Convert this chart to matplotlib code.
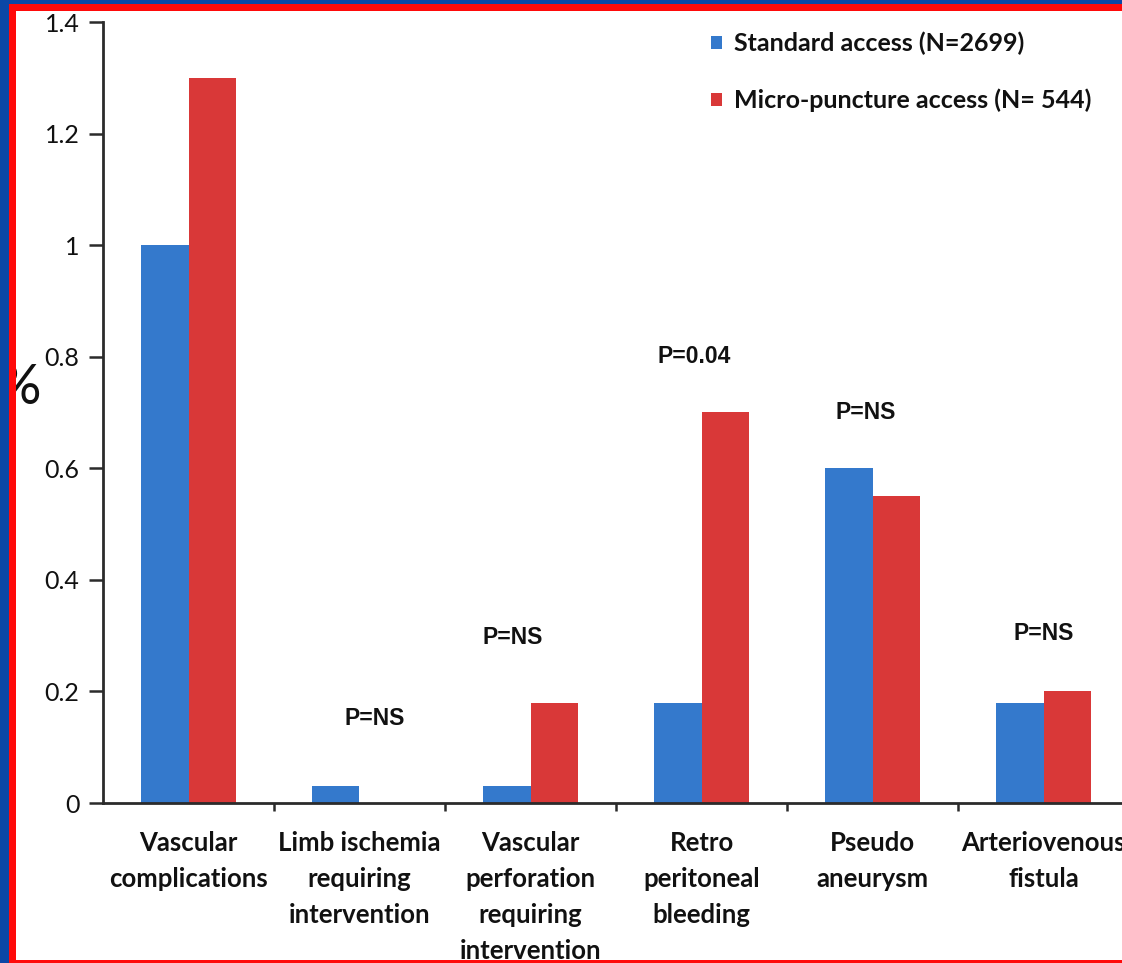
import matplotlib
matplotlib.use("Agg")
import matplotlib.pyplot as plt
from matplotlib.patches import Patch, Rectangle

# Complication rates (%) by access type
categories = [
    "Vascular\ncomplications",
    "Limb ischemia\nrequiring\nintervention",
    "Vascular\nperforation\nrequiring\nintervention",
    "Retro\nperitoneal\nbleeding",
    "Pseudo\naneurysm",
    "Arteriovenous\nfistula",
]
standard = [1.0, 0.03, 0.03, 0.18, 0.60, 0.18]
micro = [1.30, 0.0, 0.18, 0.70, 0.55, 0.20]
series_labels = ["Standard access (N=2699)", "Micro-puncture access (N= 544)"]

# p-value annotations: (category index, x offset, y position, text)
p_notes = [
    (1, 0.09, 0.152, "P=NS"),
    (2, -0.105, 0.297, "P=NS"),
    (3, -0.04, 0.80, "P=0.04"),
    (4, -0.04, 0.70, "P=NS"),
    (5, 0.0, 0.303, "P=NS"),
]
yticks = [0, 0.2, 0.4, 0.6, 0.8, 1, 1.2, 1.4]
ytick_labels = ["0", "0.2", "0.4", "0.6", "0.8", "1", "1.2", "1.4"]

BLUE = "#3479cc"
RED = "#d93838"
AXIS = "#2b2b2b"

W, H = 1122, 963
fig = plt.figure(figsize=(W / 100, H / 100), dpi=100)
fig.patch.set_facecolor("white")

ax_left, ax_right, ax_top, ax_bottom = 103, 1129, 22, 803
ax = fig.add_axes([ax_left / W, 1 - ax_bottom / H,
                   (ax_right - ax_left) / W, (ax_bottom - ax_top) / H])
ax.set_facecolor("white")

bw = 0.28
centers = [i + 0.5 for i in range(len(categories))]
ax.bar([c - bw / 2 for c in centers], standard, width=bw, color=BLUE,
       zorder=2, label=series_labels[0])
ax.bar([c + bw / 2 for c in centers], micro, width=bw, color=RED,
       zorder=2, label=series_labels[1])

ax.set_xlim(0, len(categories))
ax.set_ylim(0, 1.4)
ax.set_yticks(yticks)
ax.set_yticklabels(ytick_labels, fontfamily="Lato", fontsize=18,
                   color="#111111")

# category boundaries carry the tick marks, labels sit at the centers
ax.set_xticks(range(1, len(categories)))
ax.set_xticklabels([])
ax.tick_params(axis="x", which="major", direction="out", length=6,
               width=1.8, color=AXIS)
ax.set_xticks(centers, minor=True)
ax.set_xticklabels(categories, minor=True, fontfamily="Lato",
                   fontweight="bold", fontsize=18.5, linespacing=1.6,
                   va="top", color="#111111")
ax.tick_params(axis="x", which="minor", length=0, pad=20)
ax.tick_params(axis="y", direction="out", length=10, width=1.8,
               color=AXIS, pad=7)

for side in ("top", "right"):
    ax.spines[side].set_visible(False)
for side in ("left", "bottom"):
    ax.spines[side].set_linewidth(2)
    ax.spines[side].set_color(AXIS)
    ax.spines[side].set_zorder(3)

for idx, dx, y, txt in p_notes:
    ax.text(centers[idx] + dx, y, txt, ha="center", va="center",
            fontfamily="Liberation Sans", fontweight="bold", fontsize=16.5,
            color="#111111", zorder=4)

handles = [Patch(facecolor=BLUE, edgecolor="none"),
           Patch(facecolor=RED, edgecolor="none")]
fig.legend(handles, series_labels, loc="upper left",
           bbox_to_anchor=(711 / W, 1 - 32 / H), frameon=False,
           prop={"family": "Lato", "weight": "bold", "size": 18},
           handlelength=0.42, handleheight=0.42, handletextpad=0.5,
           labelspacing=1.32, borderpad=0, borderaxespad=0,
           labelcolor="#111111")

fig.text(41 / W, 1 - 388 / H, "%", ha="right", va="center",
         fontfamily="Lato", fontsize=40, color="#111111", zorder=3)

# slide frame: blue outer band, red inner band
def band(x0, y0, x1, y1, color):
    fig.patches.append(Rectangle((x0 / W, 1 - y1 / H), (x1 - x0) / W,
                                 (y1 - y0) / H, transform=fig.transFigure,
                                 facecolor=color, edgecolor="none",
                                 zorder=10))

FRAME_BLUE = "#0b47a6"
FRAME_RED = "#ff0a0a"
band(0, 0, W, 4, FRAME_BLUE)
band(0, 0, 9, H, FRAME_BLUE)
band(9, 4, W, 11, FRAME_RED)
band(9, 4, 16, H, FRAME_RED)
band(9, 960, W, H, FRAME_RED)

fig.savefig("out.png", dpi=100)
